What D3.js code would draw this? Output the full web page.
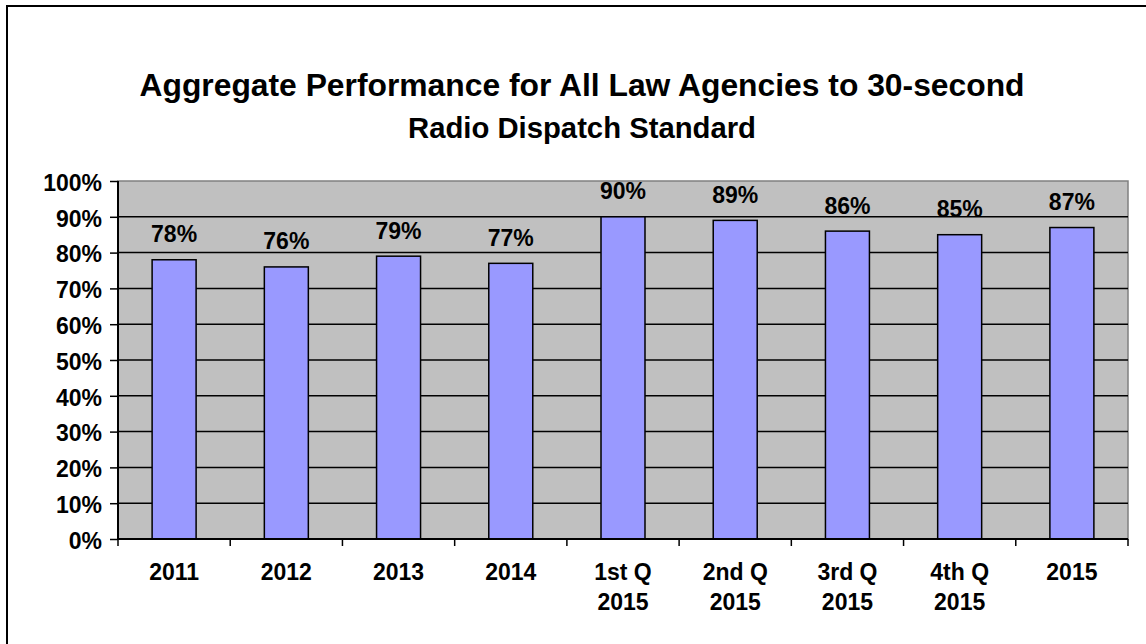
<!DOCTYPE html>
<html>
<head>
<meta charset="utf-8">
<script src="https://cdn.jsdelivr.net/npm/d3@7"></script>
<style>
  body { margin: 0; background: #fff; }
  svg { display: block; font-family: "Liberation Sans", Arial, sans-serif; }
</style>
</head>
<body>
<svg id="chart" width="1146" height="644"></svg>
<script>
const categories = [["2011"], ["2012"], ["2013"], ["2014"], ["1st Q", "2015"], ["2nd Q", "2015"], ["3rd Q", "2015"], ["4th Q", "2015"], ["2015"]]
const values = [0.78, 0.76, 0.79, 0.77, 0.90, 0.89, 0.86, 0.85, 0.87]
const yTicks = [0, 0.1, 0.2, 0.3, 0.4, 0.5, 0.6, 0.7, 0.8, 0.9, 1.0]
const titleLines = ["Aggregate Performance for All Law Agencies to 30-second", "Radio Dispatch Standard"]
const titleWidths = [885, 348]
const titleSizes = [31, 30]

const svg = d3.select("#chart")
const plotLeft = 118, plotRight = 1128, plotTop = 181, plotBottom = 539

// outer chart frame (runs off the right and bottom edges)
svg.append("rect")
    .attr("x", 7).attr("y", 6)
    .attr("width", 1160).attr("height", 660)
    .attr("fill", "none").attr("stroke", "#000").attr("stroke-width", 2)

// title (fit each line's width to the source)
svg.append("g").selectAll("text")
    .data(titleLines)
    .enter().append("text")
    .attr("x", 582)
    .attr("y", (d, i) => 96 + i * 42)
    .attr("text-anchor", "middle")
    .attr("textLength", (d, i) => titleWidths[i])
    .attr("lengthAdjust", "spacingAndGlyphs")
    .style("font-size", (d, i) => titleSizes[i] + "px")
    .style("font-weight", "bold")
    .text(d => d)

let x = d3.scaleBand()
    .domain(d3.range(categories.length))
    .range([plotLeft, plotRight])
    .paddingInner(0.608)
    .paddingOuter(0.304)

let y = d3.scaleLinear().domain([0, 1]).range([plotBottom, plotTop])

// plot area
svg.append("rect")
    .attr("x", plotLeft).attr("y", plotTop)
    .attr("width", plotRight - plotLeft).attr("height", plotBottom - plotTop)
    .attr("fill", "#c0c0c0")
    .attr("stroke", "#808080").attr("stroke-width", 1.5)

// gridlines
svg.append("g").selectAll("line")
    .data(yTicks.filter(t => t > 0 && t < 1))
    .enter().append("line")
    .attr("x1", plotLeft).attr("x2", plotRight)
    .attr("y1", d => y(d)).attr("y2", d => y(d))
    .attr("stroke", "#000").attr("stroke-width", 1.5)

// bars
svg.append("g").selectAll("rect")
    .data(values)
    .enter().append("rect")
    .attr("x", (d, i) => x(i))
    .attr("y", d => y(d))
    .attr("width", x.bandwidth())
    .attr("height", d => plotBottom - y(d))
    .attr("fill", "#9999ff")
    .attr("stroke", "#000").attr("stroke-width", 1.5)

// value labels
svg.append("g").selectAll("text")
    .data(values)
    .enter().append("text")
    .attr("x", (d, i) => x(i) + x.bandwidth() / 2)
    .attr("y", d => y(d) - 17.5)
    .attr("text-anchor", "middle")
    .style("font-size", "23px")
    .style("font-weight", "bold")
    .text(d => d3.format(".0%")(d))

// y axis
let yAxis = svg.append("g")
    .attr("transform", `translate(${plotLeft},0)`)
    .call(d3.axisLeft(y).tickValues(yTicks).tickFormat(d3.format(".0%")).tickSize(8).tickPadding(8))
yAxis.select(".domain").attr("stroke", "#000").attr("stroke-width", 2).attr("d", `M0,${plotTop}V${plotBottom}`)
yAxis.selectAll(".tick line").attr("stroke-width", 1.5)
yAxis.selectAll("text")
    .attr("dy", "0.4em")
    .style("font-size", "23px").style("font-weight", "bold")
    .style("font-family", "'Liberation Sans', Arial, sans-serif")
    .attr("fill", "#000")

// x axis: ticks on category boundaries
let boundaries = d3.range(categories.length + 1).map(i => plotLeft + i * x.step())
svg.append("line")
    .attr("x1", plotLeft).attr("x2", plotRight)
    .attr("y1", plotBottom).attr("y2", plotBottom)
    .attr("stroke", "#000").attr("stroke-width", 2)
svg.append("g").selectAll("line")
    .data(boundaries)
    .enter().append("line")
    .attr("x1", d => d).attr("x2", d => d)
    .attr("y1", plotBottom).attr("y2", plotBottom + 7)
    .attr("stroke", "#000").attr("stroke-width", 1.5)

let xLabels = svg.append("g").selectAll("text")
    .data(categories)
    .enter().append("text")
    .attr("text-anchor", "middle")
    .style("font-size", "23px")
    .style("font-weight", "bold")
xLabels.selectAll("tspan")
    .data((d, i) => d.map(line => ({ line, i })))
    .enter().append("tspan")
    .attr("x", d => x(d.i) + x.bandwidth() / 2)
    .attr("y", (d, j) => 580 + j * 30)
    .text(d => d.line)
</script>
</body>
</html>
